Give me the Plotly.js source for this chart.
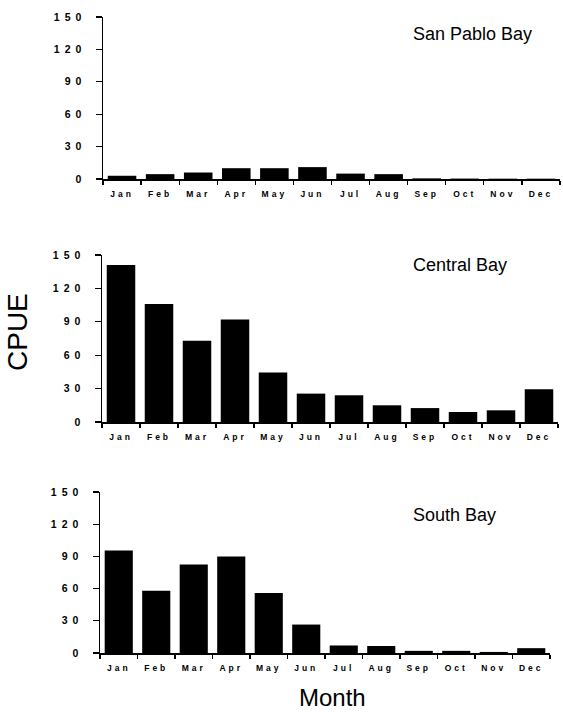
<!DOCTYPE html>
<html>
<head>
<meta charset="utf-8">
<script src="https://cdn.plot.ly/plotly-3.0.1.min.js"></script>
<style>
  html, body { margin: 0; padding: 0; background: #fff; }
  #chart { width: 563px; height: 713px; }
  .ytick text, .y2tick text, .y3tick text { letter-spacing: 5px; }
  .xtick text, .x2tick text, .x3tick text { letter-spacing: 3px; }
</style>
</head>
<body>
<div id="chart"></div>
<script>
const months = ["Jan","Feb","Mar","Apr","May","Jun","Jul","Aug","Sep","Oct","Nov","Dec"];
const sanPablo = [3, 4.5, 6, 10, 10, 11, 5, 4.5, 0.6, 0.4, 0.3, 0.3];
const central  = [141, 106, 73, 92, 44.5, 25.5, 24, 15, 12.5, 9, 10.5, 29.5];
const south    = [95.5, 58, 82.5, 90, 56, 26.5, 7, 6.5, 2, 2, 1, 4.5];
const panelNames = ["San Pablo Bay", "Central Bay", "South Bay"];
const yTicks = [0, 30, 60, 90, 120, 150];
const yLabel = "CPUE";
const xLabel = "Month";

const series = [sanPablo, central, south];
const axIds = ["", "2", "3"];

const traces = series.map((vals, i) => ({
  type: "bar",
  x: months,
  y: vals,
  xaxis: "x" + axIds[i],
  yaxis: "y" + axIds[i],
  marker: { color: "#000", line: { width: 0 } },
  hoverinfo: "skip"
}));

const W = 563, H = 713;
const xDomains = [[103 / W, 560 / W], [102 / W, 558 / W], [100 / W, 550 / W]];
const yDomains = [[(H - 179) / H, (H - 17) / H], [(H - 422) / H, (H - 255) / H], [(H - 653) / H, (H - 492) / H]];

const tickFontY = { family: "Liberation Sans, Arial, sans-serif", size: 10.5, weight: "bold", color: "#000" };
const tickFontX = { family: "Liberation Sans, Arial, sans-serif", size: 8.5, weight: "bold", color: "#000" };

const layout = {
  width: W, height: H,
  margin: { l: 0, r: 0, t: 0, b: 0, autoexpand: false },
  paper_bgcolor: "#fff",
  plot_bgcolor: "#fff",
  showlegend: false,
  bargap: 0.25,
  annotations: []
};

for (let i = 0; i < 3; i++) {
  const id = axIds[i];
  layout["xaxis" + id] = {
    domain: xDomains[i],
    anchor: "y" + id,
    type: "category",
    categoryorder: "array",
    categoryarray: months,
    showline: true, linewidth: 1.5, linecolor: "#000",
    ticks: "outside", tickson: "boundaries", ticklen: 4, tickwidth: 1.2, tickcolor: "#000",
    ticklabelstandoff: 6,
    tickfont: tickFontX,
    showgrid: false, zeroline: false, fixedrange: true
  };
  layout["yaxis" + id] = {
    domain: yDomains[i],
    anchor: "x" + id,
    range: [0, 150],
    tickmode: "array",
    tickvals: yTicks,
    ticktext: yTicks.map(String),
    showline: true, linewidth: 1.5, linecolor: "#000",
    ticks: "outside", ticklen: 6, tickwidth: 1.2, tickcolor: "#000",
    ticklabelstandoff: 7,
    tickfont: tickFontY,
    showgrid: false, zeroline: false, fixedrange: true
  };
}

const titleY = [(H - 34) / H, (H - 265) / H, (H - 515) / H];
panelNames.forEach((name, i) => {
  layout.annotations.push({
    text: name, xref: "paper", yref: "paper",
    x: 411 / W, y: titleY[i], xanchor: "left", yanchor: "middle",
    showarrow: false,
    font: { family: "Liberation Sans, Arial, sans-serif", size: 18, color: "#000" }
  });
});

layout.annotations.push({
  text: yLabel, xref: "paper", yref: "paper",
  x: 17 / W, y: (H - 332) / H, xanchor: "center", yanchor: "middle",
  textangle: -90, showarrow: false,
  font: { family: "Liberation Sans, Arial, sans-serif", size: 28, color: "#000" }
});
layout.annotations.push({
  text: xLabel, xref: "paper", yref: "paper",
  x: 333 / W, y: 0, xanchor: "center", yanchor: "bottom",
  showarrow: false,
  font: { family: "Liberation Sans, Arial, sans-serif", size: 24, color: "#000" }
});

Plotly.newPlot("chart", traces, layout, { displayModeBar: false, staticPlot: true });
</script>
</body>
</html>
